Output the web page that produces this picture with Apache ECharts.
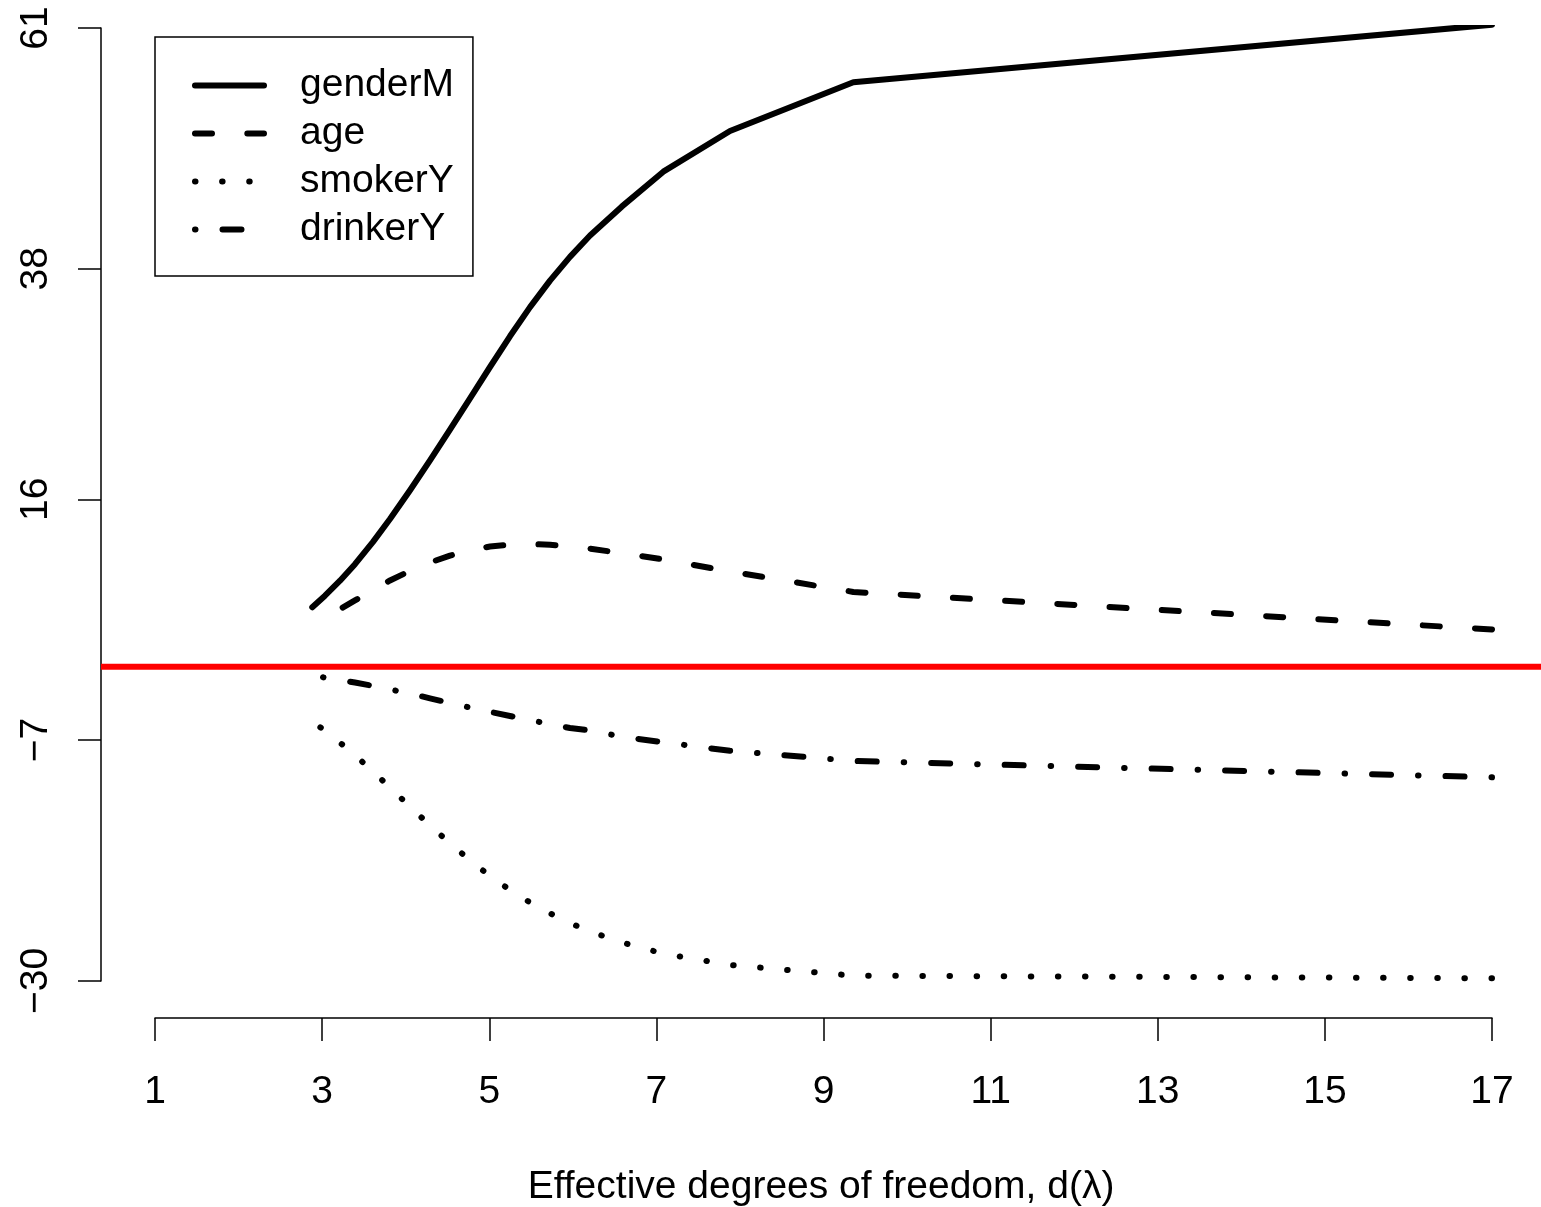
<!DOCTYPE html>
<html>
<head>
<meta charset="utf-8">
<script src="https://cdn.jsdelivr.net/npm/echarts@6/dist/echarts.min.js"></script>
<style>html,body{margin:0;padding:0;background:#fff}#c{width:1541px;height:1207px}</style>
</head>
<body>
<div id="c"></div>
<script>
// Effective degrees of freedom (path drawn from OLS end towards heavy shrinkage)
const df = [17.0, 9.357, 7.881, 7.083, 6.585, 6.206, 5.966, 5.727, 5.488, 5.248, 5.009,
            4.770, 4.530, 4.291, 4.052, 3.812, 3.609, 3.393, 3.214, 3.034, 2.882];
const genderM = [61.32, 55.82, 51.17, 47.28, 43.94, 41.18, 39.15, 36.88, 34.35, 31.56, 28.63,
                 25.64, 22.65, 19.72, 16.86, 14.12, 11.93, 9.80, 8.22, 6.79, 5.69];
const age = [3.57, 7.15, 9.11, 10.25, 10.86, 11.28, 11.51, 11.66, 11.72, 11.66, 11.49,
             11.13, 10.61, 9.96, 9.16, 8.25, 7.35, 6.34, 5.51, 4.72, 4.08];
const smokerY = [-29.74, -29.49, -28.47, -27.39, -26.31, -25.27, -24.46, -23.54, -22.50, -21.31, -19.97,
                 -18.48, -16.85, -15.15, -13.36, -11.52, -9.99, -8.45, -7.24, -6.11, -5.20];
const drinkerY = [-10.55, -8.99, -8.02, -7.20, -6.67, -6.08, -5.84, -5.47, -5.09, -4.69, -4.30,
                  -3.89, -3.45, -3.01, -2.55, -2.16, -1.82, -1.50, -1.26, -1.03, -0.83];
const seriesNames = ['genderM', 'age', 'smokerY', 'drinkerY'];
const yTicks = [-30, -7, 16, 38, 61];
const xMin = 1, xMax = 17, xStep = 2;
const yMin = -30, yMax = 61;
const refValue = 0;
const xTitle = 'Effective degrees of freedom, d(\u03bb)';

const font = "'Liberation Sans', Arial, Helvetica, sans-serif";
const pairs = ys => df.map((x, i) => [x, ys[i]]);
// R-style 4% extension of the x range: the plot region the reference line spans
const xPad = 0.04 * (xMax - xMin);
const refLine = [[xMin - xPad, refValue], [xMax + xPad, refValue]];

const axisCol = '#000';
const chart = echarts.init(document.getElementById('c'), null, {renderer: 'canvas'});
const curveStyle = (type) => ({color: '#000', width: 6, type: type, cap: 'round', join: 'round'});

chart.setOption({
  animation: false,
  backgroundColor: '#fff',
  grid: [
    {left: 155, right: 49, top: 28, bottom: 226, outerBoundsMode: 'none', containLabel: false},
    {left: 101, right: 0, top: 28, bottom: 226, outerBoundsMode: 'none', containLabel: false}
  ],
  xAxis: [{
    type: 'value', min: xMin, max: xMax, interval: xStep, offset: 37, gridIndex: 0,
    axisLine: {show: true, onZero: false, lineStyle: {color: axisCol, width: 1.5}},
    axisTick: {show: true, length: 23, lineStyle: {color: axisCol, width: 1.5}},
    axisLabel: {fontSize: 39, color: '#000', fontFamily: font, margin: 55},
    splitLine: {show: false},
    name: xTitle, nameLocation: 'middle', nameGap: 150,
    nameTextStyle: {fontSize: 39, color: '#000', fontFamily: font, padding: [0, 5, 0, 0]}
  }, {
    type: 'value', min: xMin - xPad, max: xMax + xPad, gridIndex: 1, show: false
  }],
  yAxis: [{
    type: 'value', min: yMin, max: yMax, interval: 1, offset: 54, gridIndex: 0,
    axisLine: {show: true, onZero: false, lineStyle: {color: axisCol, width: 1.5}},
    axisTick: {show: true, length: 23, customValues: yTicks, lineStyle: {color: axisCol, width: 1.5}},
    axisLabel: {
      customValues: yTicks, rotate: 90, margin: 45, fontSize: 39, color: '#000', fontFamily: font,
      formatter: v => String(v).replace('-', '\u2212')
    },
    splitLine: {show: false}
  }, {
    type: 'value', min: yMin, max: yMax, gridIndex: 1, show: false
  }],
  legend: {
    data: seriesNames,
    orient: 'vertical', left: 155, top: 37,
    padding: [29, 19, 27, 37],
    itemWidth: 69, itemHeight: 2, itemGap: 9,
    borderColor: '#000', borderWidth: 1.5, borderRadius: 0,
    backgroundColor: '#fff',
    selectedMode: false,
    itemStyle: {color: 'rgba(0,0,0,0)', borderWidth: 0},
    lineStyle: {width: 6, cap: 'round', join: 'round'},
    textStyle: {fontSize: 39, color: '#000', fontFamily: font, padding: [0, 0, 0, 31]}
  },
  series: [
    {name: 'ref', type: 'line', data: refLine, symbol: 'none', silent: true,
     xAxisIndex: 1, yAxisIndex: 1,
     lineStyle: {color: '#ff0000', width: 6, cap: 'butt'}, z: 1},
    {name: 'genderM', type: 'line', data: pairs(genderM), symbol: 'none', lineStyle: curveStyle('solid'), z: 3},
    {name: 'age', type: 'line', data: pairs(age), symbol: 'none', lineStyle: curveStyle([17, 35.3]), z: 3},
    {name: 'smokerY', type: 'line', data: pairs(smokerY), symbol: 'none', lineStyle: curveStyle([0.5, 26.6]), z: 3},
    {name: 'drinkerY', type: 'line', data: pairs(drinkerY), symbol: 'none', lineStyle: curveStyle([0.5, 27, 19, 27]), z: 3}
  ]
});
</script>
</body>
</html>
